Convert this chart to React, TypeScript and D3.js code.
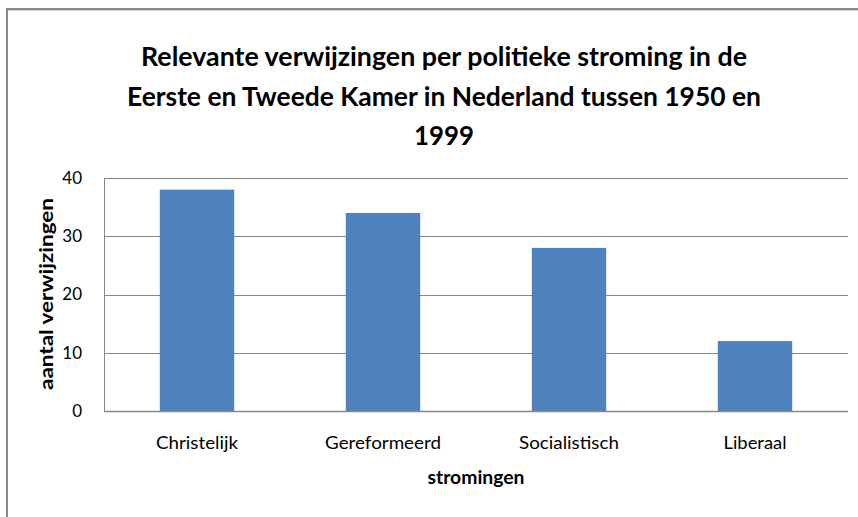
import React from "react";
import * as d3 from "d3";

const categories: string[] = ["Christelijk", "Gereformeerd", "Socialistisch", "Liberaal"];
const values: number[] = [38, 34, 28, 12];
const yTicks: number[] = [0, 10, 20, 30, 40];
const titleLines: string[] = [
  "Relevante verwijzingen per politieke stroming in de",
  "Eerste en Tweede Kamer in Nederland tussen 1950 en",
  "1999",
];
const titleWidths: number[] = [606, 634, 60];
const catWidths: number[] = [82, 116, 100, 63];
const yLabel = "aantal verwijzingen";
const xLabel = "stromingen";

const W = 858;
const H = 517;
const plot = { left: 104, right: 848, top: 178, bottom: 411 };
const FONT = "Lato, 'Open Sans', 'Liberation Sans', sans-serif";

export default function App() {
  const x = d3
    .scaleBand<string>()
    .domain(categories)
    .range([plot.left, plot.right])
    .paddingInner(0.6)
    .paddingOuter(0.3);
  const y = d3.scaleLinear().domain([0, 40]).range([plot.bottom, plot.top]);
  const grid = "#878787";

  return (
    <svg
      width={W}
      height={H}
      style={{ position: "absolute", left: 0, top: 0, background: "#fff" }}
    >
      {/* outer chart frame */}
      <rect x={7} y={9} width={W + 20} height={H + 20} fill="#fff" stroke="#888" strokeWidth={2} />
      <line x1={8} x2={W} y1={10.5} y2={10.5} stroke="#d0d0d0" strokeWidth={1} />

      {/* title */}
      {titleLines.map((t, i) => (
        <text
          key={i}
          x={444}
          y={66 + i * 39.5}
          textAnchor="middle"
          fontFamily={FONT}
          fontWeight={700}
          fontSize={27}
          fill="#000"
          textLength={titleWidths[i]}
          lengthAdjust="spacingAndGlyphs"
        >
          {t}
        </text>
      ))}

      {/* gridlines */}
      {yTicks.map((t) => (
        <line
          key={t}
          x1={plot.left}
          x2={plot.right}
          y1={Math.round(y(t)) + 0.5}
          y2={Math.round(y(t)) + 0.5}
          stroke={grid}
          strokeWidth={1}
        />
      ))}
      {/* y axis line */}
      <line x1={plot.left + 0.5} x2={plot.left + 0.5} y1={plot.top} y2={plot.bottom} stroke={grid} strokeWidth={1} />

      {/* bars */}
      {categories.map((c, i) => (
        <rect
          key={c}
          x={x(c)}
          y={y(values[i])}
          width={x.bandwidth()}
          height={y(0) - y(values[i])}
          fill="#4F81BD"
        />
      ))}
      {/* bottom axis line over bars */}
      <line x1={plot.left} x2={plot.right} y1={plot.bottom + 0.5} y2={plot.bottom + 0.5} stroke={grid} strokeWidth={1.5} />

      {/* y tick labels */}
      {yTicks.map((t) => (
        <text
          key={t}
          x={82}
          y={y(t)}
          dy="0.35em"
          textAnchor="end"
          fontFamily={FONT}
          fontSize={17}
          fill="#000"
        >
          {t}
        </text>
      ))}

      {/* category labels */}
      {categories.map((c, i) => (
        <text
          key={c}
          x={(x(c) as number) + x.bandwidth() / 2}
          y={449}
          textAnchor="middle"
          fontFamily={FONT}
          fontSize={18}
          fill="#000"
          textLength={catWidths[i]}
          lengthAdjust="spacingAndGlyphs"
        >
          {c}
        </text>
      ))}

      {/* axis titles */}
      <text
        x={(plot.left + plot.right) / 2}
        y={484}
        textAnchor="middle"
        fontFamily={FONT}
        fontWeight={700}
        fontSize={18}
        fill="#000"
        textLength={97}
        lengthAdjust="spacingAndGlyphs"
      >
        {xLabel}
      </text>
      <text
        transform={`translate(53,294) rotate(-90)`}
        textAnchor="middle"
        fontFamily={FONT}
        fontWeight={700}
        fontSize={18}
        fill="#000"
        textLength={192}
        lengthAdjust="spacingAndGlyphs"
      >
        {yLabel}
      </text>
    </svg>
  );
}
